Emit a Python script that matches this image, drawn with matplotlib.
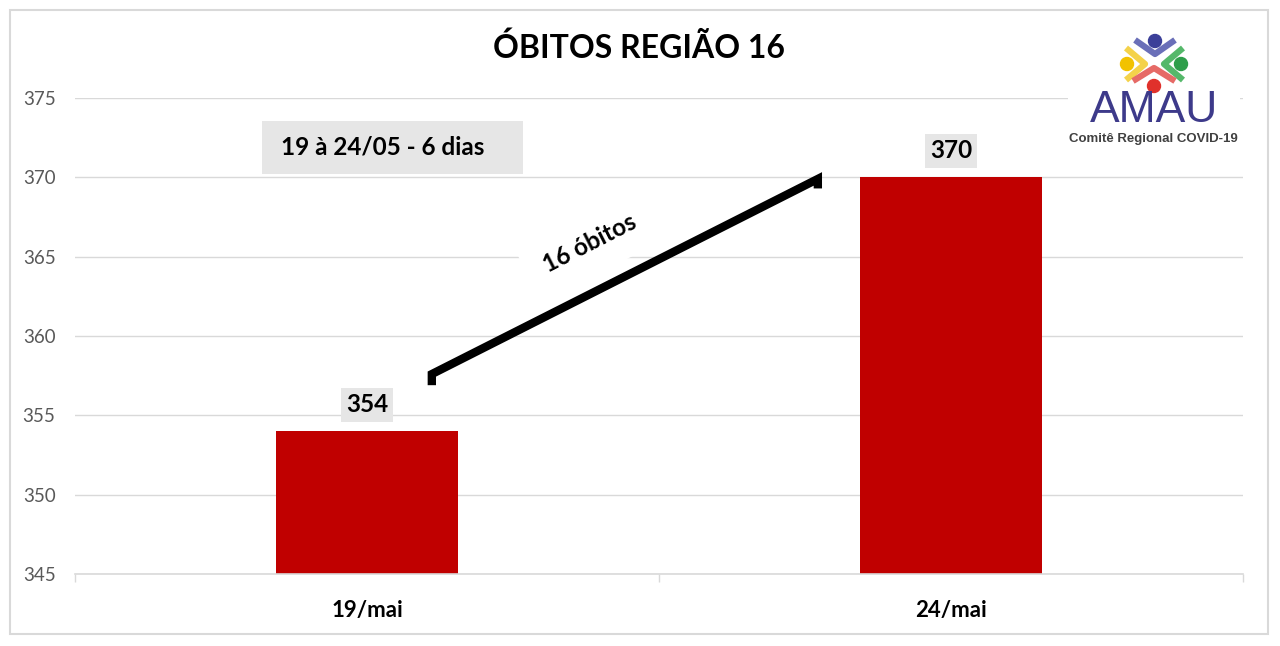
import matplotlib
matplotlib.use("Agg")
import matplotlib.pyplot as plt
from matplotlib.patches import Rectangle, Circle

plt.rcParams["font.family"] = ["Lato", "DejaVu Sans"]

# chart data
categories = ["19/mai", "24/mai"]
obitos = [354, 370]
y_ticks = [345, 350, 355, 360, 365, 370, 375]
title = "ÓBITOS REGIÃO 16"
period_note = "19 à 24/05 - 6 dias"
diff_note = "16 óbitos"

# annotation bracket line (data coords)
bracket_x = [0.111, 0.111, 0.772, 0.772]
bracket_y = [356.9, 357.6, 369.9, 369.3]

W, H = 1280, 646
fig = plt.figure(figsize=(W / 100, H / 100), dpi=100)
fig.patch.set_facecolor("white")


def fx(px):
    return px / W


def fy(py):
    return 1 - py / H


# outer frame
fig.patches.append(Rectangle((fx(10), fy(634)), fx(1258), 624 / H,
                             transform=fig.transFigure, fill=False,
                             edgecolor="#D9D9D9", linewidth=1.5))

ax = fig.add_axes([fx(75), fy(574), fx(1243) - fx(75), (574 - 98) / H])
x = list(range(len(categories)))
bars = ax.bar(x, [v - y_ticks[0] for v in obitos], bottom=y_ticks[0],
              width=0.313, color="#C00000", zorder=2)

ax.set_xlim(-0.5, len(categories) - 0.5)
ax.set_ylim(y_ticks[0], y_ticks[-1])
ax.set_yticks(y_ticks)
ax.set_yticklabels([str(t) for t in y_ticks], fontsize=13.5, color="#595959")
ax.set_xticks(x)
ax.set_xticklabels(categories, fontsize=16, fontweight="bold", color="black")
ax.set_xticks([-0.5, 0.5, 1.5], minor=True)
ax.tick_params(axis="y", length=0, pad=14)
ax.tick_params(axis="x", which="major", length=0, pad=19)
ax.tick_params(axis="x", which="minor", length=6, color="#D9D9D9", width=1)
ax.grid(axis="y", color="#D9D9D9", linewidth=1, zorder=0)
ax.set_axisbelow(True)
for s in ["top", "right", "left"]:
    ax.spines[s].set_visible(False)
ax.spines["bottom"].set_color("#D9D9D9")
ax.spines["bottom"].set_linewidth(1.2)

# value labels
for xi, v in zip(x, obitos):
    ax.annotate(str(v), (xi, v), xytext=(0, 19), textcoords="offset points",
                ha="center", va="center", fontsize=17.5, fontweight="bold",
                bbox=dict(boxstyle="square,pad=0.22", facecolor="#E6E6E6",
                          edgecolor="none"), zorder=4)

# bracket line and its label
ax.plot(bracket_x, bracket_y, color="black", linewidth=6,
        solid_capstyle="butt", solid_joinstyle="miter", zorder=3)
ax.text(0.382, 365.86, diff_note, rotation=27, rotation_mode="anchor",
        ha="center", va="center", fontsize=17.5, fontweight="bold", zorder=3,
        bbox=dict(boxstyle="square,pad=0.8", facecolor="white",
                  edgecolor="none"))

# period note box
fig.patches.append(Rectangle((fx(262), fy(174)), fx(261), 53 / H,
                             transform=fig.transFigure, facecolor="#E6E6E6",
                             edgecolor="none", zorder=5))
fig.text(fx(383), fy(147), period_note, ha="center", va="center",
         fontsize=17.5, fontweight="bold", zorder=6)

# title
fig.text(fx(639), fy(48), title, ha="center", va="center", fontsize=23,
         fontweight="bold")

# logo
fig.patches.append(Rectangle((fx(1068), fy(150)), fx(172), 115 / H,
                             transform=fig.transFigure, facecolor="white",
                             edgecolor="none", zorder=5))
lax = fig.add_axes([fx(1110), fy(95), fx(90), 65 / H], zorder=6)
lax.set_xlim(1110, 1200)
lax.set_ylim(95, 30)
lax.set_aspect("equal")
lax.axis("off")
icon = [
    ("#3B3F99", (1155, 41), [(1135, 40), (1155, 54), (1175, 40)], "#6A6FB8"),
    ("#F2C200", (1127, 64), [(1126, 48), (1145, 64), (1126, 80)], "#F4D24A"),
    ("#2E9E4A", (1181, 64), [(1183, 48), (1164, 64), (1183, 80)], "#55B86A"),
    ("#E0312B", (1154, 86), [(1133, 81), (1154, 68), (1175, 81)], "#E66A66"),
]
for dot, c, chev, chev_c in icon:
    lax.plot([p[0] for p in chev], [p[1] for p in chev], color=chev_c,
             linewidth=4.5, solid_capstyle="butt")
    lax.add_patch(Circle(c, 6.5, color=dot))
fig.text(fx(1154), fy(111), "AMAU", ha="center", va="center", fontsize=32,
         color="#3D3A8A", family=["Liberation Sans", "DejaVu Sans"], zorder=7)
fig.text(fx(1153), fy(139), "Comitê Regional COVID-19", ha="center",
         va="center", fontsize=9.5, fontweight="bold", color="#404040",
         family=["Liberation Sans", "DejaVu Sans"], zorder=7)

fig.savefig("out.png", dpi=100, facecolor="white")
